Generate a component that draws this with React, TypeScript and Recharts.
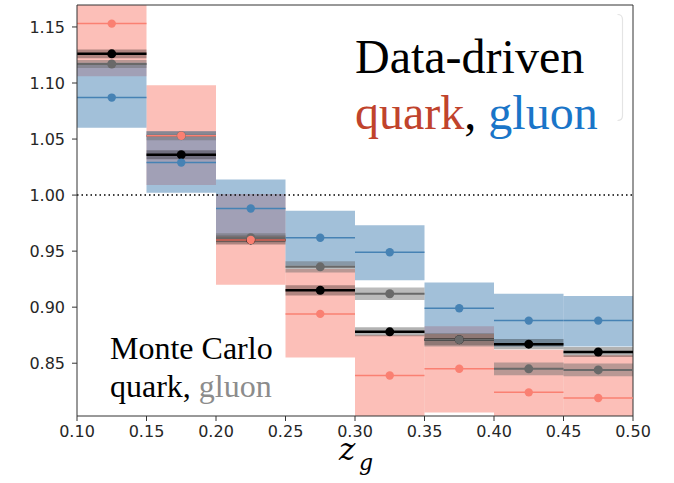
import React from "react";
import {
  ComposedChart,
  XAxis,
  YAxis,
  Scatter,
  ErrorBar,
  ReferenceArea,
  ReferenceLine,
} from "recharts";

// bin edges in z_g
const binLo = [0.1, 0.15, 0.2, 0.25, 0.3, 0.35, 0.4, 0.45];
const binHi = [0.15, 0.2, 0.25, 0.3, 0.35, 0.4, 0.45, 0.5];
const xTicks = [0.1, 0.15, 0.2, 0.25, 0.3, 0.35, 0.4, 0.45, 0.5];
const yTicks = [0.85, 0.9, 0.95, 1.0, 1.05, 1.1, 1.15];

// data-driven quark (red) and gluon (blue) with their uncertainty boxes
const quarkDD = [1.153, 1.053, 0.96, 0.894, 0.839, 0.845, 0.824, 0.819];
const quarkDDLo = [1.106, 1.009, 0.92, 0.855, 0.803, 0.806, 0.786, 0.781];
const quarkDDHi = [1.2, 1.098, 1.001, 0.934, 0.875, 0.883, 0.862, 0.857];
const gluonDD = [1.087, 1.029, 0.988, 0.962, 0.949, 0.899, 0.888, 0.888];
const gluonDDLo = [1.06, 1.002, 0.963, 0.937, 0.924, 0.876, 0.865, 0.865];
const gluonDDHi = [1.118, 1.057, 1.014, 0.986, 0.973, 0.922, 0.912, 0.91];

// Monte Carlo quark (black) and gluon (grey)
const mcQuark = [1.126, 1.036, 0.96, 0.915, 0.878, 0.871, 0.867, 0.86];
const mcQuarkErr = [0.004, 0.004, 0.004, 0.0045, 0.004, 0.005, 0.0045, 0.0045];
const mcGluon = [1.117, 1.053, 0.962, 0.936, 0.912, 0.871, 0.845, 0.844];
const mcGluonErr = [0.0035, 0.004, 0.004, 0.005, 0.0055, 0.006, 0.0057, 0.0057];

const Y_MIN = 0.8029;
const Y_MAX = 1.1696;

const RED = "#fa8072";
const BLUE = "#4682b4";
const GREY = "#696969";

const points = (vals: number[]) =>
  vals.map((v, i) => ({
    x: (binLo[i] + binHi[i]) / 2,
    y: v,
    ex: (binHi[i] - binLo[i]) / 2,
  }));

const dot = (color: string, r: number) => (props: any) =>
  <circle cx={props.cx} cy={props.cy} r={r} fill={color} />;

const serif = "Liberation Serif";

export default function App() {
  return (
    <div style={{ position: "fixed", left: 0, top: 0, width: 674, height: 483, background: "#fff" }}>
      <ComposedChart
        width={674}
        height={483}
        margin={{ top: 5, right: 41, bottom: 27, left: 0 }}
      >
        <XAxis
          type="number"
          dataKey="x"
          domain={[0.1, 0.5]}
          ticks={xTicks}
          tickFormatter={(v) => v.toFixed(2)}
          height={40}
          tickSize={5}
          tickMargin={5}
          stroke="#333"
          tick={{ fontSize: 16, fill: "#262626", fontFamily: "DejaVu Sans" }}
          allowDataOverflow
        />
        <YAxis
          type="number"
          dataKey="y"
          domain={[Y_MIN, Y_MAX]}
          ticks={yTicks}
          tickFormatter={(v) => v.toFixed(2)}
          width={77}
          tickSize={5}
          tickMargin={7}
          stroke="#333"
          tick={{ fontSize: 16, fill: "#262626", fontFamily: "DejaVu Sans" }}
          allowDataOverflow
        />

        {binLo.map((lo, i) => (
          <ReferenceArea key={"qb" + i} x1={lo} x2={binHi[i]} y1={quarkDDLo[i]} y2={quarkDDHi[i]}
            fill={RED} fillOpacity={0.5} stroke="none" ifOverflow="hidden" />
        ))}
        {binLo.map((lo, i) => (
          <ReferenceArea key={"gb" + i} x1={lo} x2={binHi[i]} y1={gluonDDLo[i]} y2={gluonDDHi[i]}
            fill={BLUE} fillOpacity={0.5} stroke="none" ifOverflow="hidden" />
        ))}
        {binLo.map((lo, i) => (
          <ReferenceArea key={"mq" + i} x1={lo} x2={binHi[i]} y1={mcQuark[i] - mcQuarkErr[i]} y2={mcQuark[i] + mcQuarkErr[i]}
            fill="#000" fillOpacity={0.3} stroke="none" ifOverflow="hidden" />
        ))}
        {binLo.map((lo, i) => (
          <ReferenceArea key={"mg" + i} x1={lo} x2={binHi[i]} y1={mcGluon[i] - mcGluonErr[i]} y2={mcGluon[i] + mcGluonErr[i]}
            fill={GREY} fillOpacity={0.45} stroke="none" ifOverflow="hidden" />
        ))}

        <ReferenceLine y={1} stroke="#000" strokeWidth={1.5} strokeDasharray="1.5 3" />
        <ReferenceLine y={Y_MAX} stroke="#333" />
        <ReferenceLine x={0.5} stroke="#333" />

        <Scatter data={points(mcQuark)} shape={dot("#000", 4.5)} isAnimationActive={false}>
          <ErrorBar dataKey="ex" direction="x" width={0} stroke="#000" strokeWidth={2.5} />
        </Scatter>
        <Scatter data={points(mcGluon)} shape={dot(GREY, 4.5)} isAnimationActive={false}>
          <ErrorBar dataKey="ex" direction="x" width={0} stroke={GREY} strokeWidth={2} />
        </Scatter>
        <Scatter data={points(quarkDD)} shape={dot(RED, 4.2)} isAnimationActive={false}>
          <ErrorBar dataKey="ex" direction="x" width={0} stroke={RED} strokeWidth={1.5} />
        </Scatter>
        <Scatter data={points(gluonDD)} shape={dot(BLUE, 4.2)} isAnimationActive={false}>
          <ErrorBar dataKey="ex" direction="x" width={0} stroke={BLUE} strokeWidth={1.5} />
        </Scatter>
      </ComposedChart>

      <svg width={674} height={483} style={{ position: "absolute", left: 0, top: 0, pointerEvents: "none" }}>
        <path d="M617.5 14.5 Q622.5 14.5 622.5 19.5 L622.5 115.5 Q622.5 120.5 617.5 120.5"
          fill="none" stroke="#e4e4e4" strokeWidth={1.2} />
        <text x={355} y={73} fontFamily={serif} fontSize={48} fill="#000">Data-driven</text>
        <text x={355} y={129} fontFamily={serif} fontSize={48}>
          <tspan fill="#c0432c">quark</tspan>
          <tspan fill="#000">, </tspan>
          <tspan fill="#1a75c8">gluon</tspan>
        </text>
        <text x={110} y={359} fontFamily={serif} fontSize={32} fill="#000">Monte Carlo</text>
        <text x={110} y={397} fontFamily={serif} fontSize={32}>
          <tspan fill="#000">quark, </tspan>
          <tspan fill="#8c8c8c">gluon</tspan>
        </text>
        <text x={339} y={460} fontFamily="DejaVu Serif" fontStyle="italic" fontSize={31} fill="#000">z</text>
        <text x={359} y={470} fontFamily="DejaVu Serif" fontStyle="italic" fontSize={22} fill="#000">g</text>
      </svg>
    </div>
  );
}
